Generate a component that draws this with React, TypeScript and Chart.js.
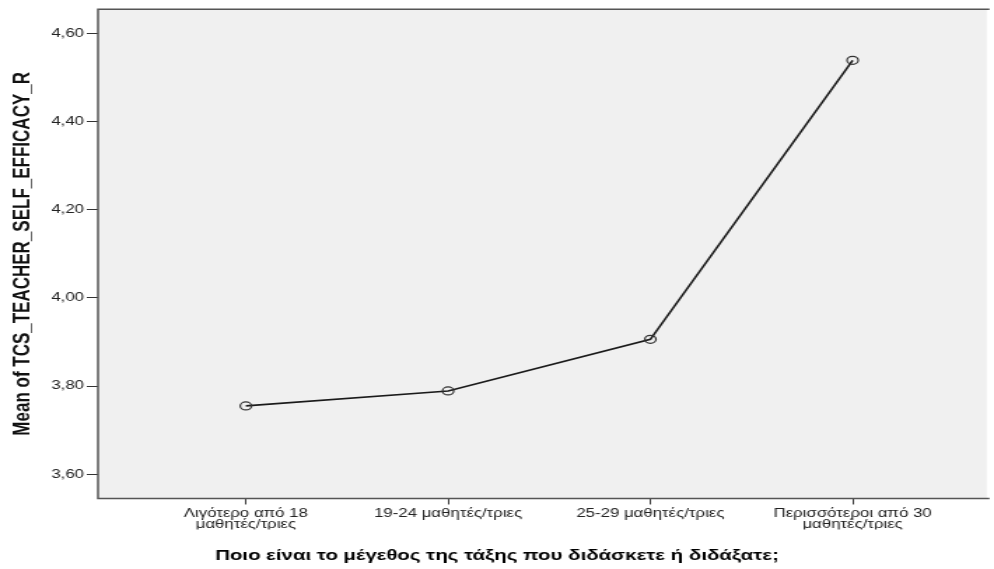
import React, { useEffect, useRef } from "react";
import { Chart, registerables } from "chart.js";

Chart.register(...registerables);

// ---- data ----
const categoryLabels: string[][] = [
  ["Λιγότερο από 18", "μαθητές/τριες"],
  ["19-24 μαθητές/τριες"],
  ["25-29 μαθητές/τριες"],
  ["Περισσότεροι από 30", "μαθητές/τριες"],
];
const meanValues: number[] = [3.755, 3.789, 3.906, 4.539];
const yTickValues: number[] = [3.6, 3.8, 4.0, 4.2, 4.4, 4.6];
const xTickValues: number[] = [0, 1, 2, 3];
const yAxisTitle = "Mean of TCS_TEACHER_SELF_EFFICACY_R";
const xAxisTitle = "Ποιο είναι το μέγεθος της τάξης που διδάσκετε ή διδάξατε;";

// the reference picture is stretched horizontally
const SX = 1.4;
const PAGE_W = 994;
const PAGE_H = 569;
const CANVAS_W = Math.round(PAGE_W / SX);

const FONT = "'Liberation Sans', Arial, Helvetica, sans-serif";

const plotFrame = {
  id: "plotFrame",
  beforeDraw(chart: any) {
    const { ctx, chartArea } = chart;
    const { left, top, right, bottom } = chartArea;
    ctx.save();
    ctx.fillStyle = "#ffffff";
    ctx.fillRect(0, 0, chart.width, chart.height);
    ctx.fillStyle = "#f0f0f0";
    ctx.fillRect(left, top, right - left, bottom - top);
    ctx.restore();
  },
  beforeDatasetsDraw(chart: any) {
    const { ctx, chartArea } = chart;
    const { left, top, right, bottom } = chartArea;
    ctx.save();
    ctx.strokeStyle = "#555555";
    ctx.lineWidth = 1.5;
    ctx.beginPath();
    ctx.moveTo(right + 2, top);
    ctx.lineTo(left, top);
    ctx.lineTo(left, bottom);
    ctx.lineTo(right + 2, bottom);
    ctx.stroke();
    ctx.restore();
  },
};

export default function App() {
  const canvasRef = useRef<HTMLCanvasElement | null>(null);

  useEffect(() => {
    const canvas = canvasRef.current;
    if (!canvas) return;
    const points = meanValues.map((v, i) => ({ x: i, y: v }));
    const chart = new Chart(canvas, {
      type: "line",
      data: {
        datasets: [
          {
            data: points,
            borderColor: "#1a1a1a",
            borderWidth: 1.6,
            pointRadius: 4,
            pointBorderWidth: 1.2,
            pointBorderColor: "#333333",
            pointBackgroundColor: "rgba(0,0,0,0)",
            pointStyle: "circle",
            fill: false,
            tension: 0,
          },
        ],
      },
      options: {
        responsive: false,
        animation: false,
        devicePixelRatio: 1,
        layout: { padding: { top: 9, right: 0, left: 0, bottom: 0 } },
        plugins: {
          legend: { display: false },
          tooltip: { enabled: false },
          title: {
            display: true,
            position: "bottom",
            text: xAxisTitle,
            color: "#000000",
            font: { family: FONT, size: 14.6, weight: "bold" },
            padding: { top: 18, bottom: 4 },
          },
        },
        scales: {
          x: {
            type: "linear",
            bounds: "data",
            min: -0.731,
            max: 3.663,
            afterBuildTicks: (axis: any) => {
              axis.ticks = xTickValues.map((v) => ({ value: v }));
            },
            afterFit: (axis: any) => {
              axis.height = 31;
            },
            grid: {
              drawOnChartArea: false,
              drawTicks: true,
              tickLength: 6,
              tickColor: "#333333",
              tickWidth: 1,
            },
            border: { display: false },
            ticks: {
              autoSkip: false,
              maxRotation: 0,
              minRotation: 0,
              padding: 4,
              color: "#222222",
              font: { family: FONT, size: 12, lineHeight: 0.9 },
              callback: (value: any) => {
                const idx = Math.round(Number(value));
                return categoryLabels[idx] ?? "";
              },
            },
          },
          y: {
            type: "linear",
            bounds: "data",
            min: 3.545,
            max: 4.655,
            afterBuildTicks: (axis: any) => {
              axis.ticks = yTickValues.map((v) => ({ value: v }));
            },
            afterFit: (axis: any) => {
              axis.width = 70;
            },
            grid: {
              drawOnChartArea: false,
              drawTicks: true,
              tickLength: 8,
              tickColor: "#333333",
              tickWidth: 1,
            },
            border: { display: false },
            ticks: {
              padding: 2,
              color: "#222222",
              font: { family: FONT, size: 12 },
              callback: (value: any) => Number(value).toFixed(2).replace(".", ","),
            },
            title: {
              display: true,
              text: yAxisTitle,
              color: "#111111",
              font: { family: FONT, size: 17, weight: "bold" },
              padding: { top: 6, bottom: 0 },
            },
          },
        },
      },
      plugins: [plotFrame],
    } as any);
    return () => {
      chart.destroy();
    };
  }, []);

  return (
    <div
      style={{
        position: "fixed",
        left: 0,
        top: 0,
        width: PAGE_W,
        height: PAGE_H,
        overflow: "hidden",
        background: "#ffffff",
      }}
    >
      <canvas
        ref={canvasRef}
        width={CANVAS_W}
        height={PAGE_H}
        style={{
          display: "block",
          width: `${CANVAS_W}px`,
          height: `${PAGE_H}px`,
          transform: `scaleX(${SX})`,
          transformOrigin: "0 0",
        }}
      />
    </div>
  );
}
